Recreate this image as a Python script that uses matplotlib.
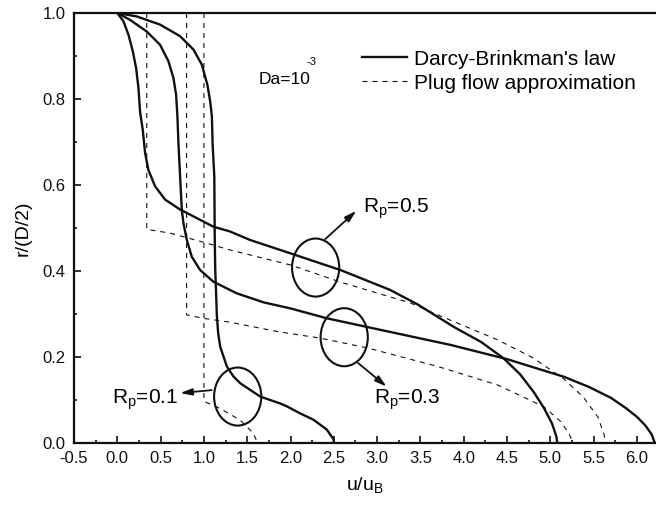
import numpy as np
import matplotlib
matplotlib.use("Agg")
import matplotlib.pyplot as plt
from matplotlib.patches import Ellipse
from matplotlib.ticker import FormatStrFormatter

plt.rcParams['font.family'] = ['Liberation Sans', 'DejaVu Sans']
plt.rcParams['mathtext.default'] = 'regular'
plt.rcParams['axes.unicode_minus'] = False

# Darcy-Brinkman velocity profiles (u/uB, r/(D/2))
db_05_u = [0.0, 0.07, 0.128, 0.179, 0.217, 0.244, 0.263, 0.294, 0.321, 0.359, 0.436, 0.552, 0.725,
           0.918, 1.11, 1.30, 1.535, 2.0, 2.58, 3.15, 3.47, 3.885, 4.2, 4.46, 4.65, 4.81, 4.93,
           5.02, 5.07, 5.08]
db_05_r = [1.0, 0.981, 0.950, 0.911, 0.872, 0.826, 0.770, 0.728, 0.674, 0.635, 0.597, 0.566, 0.543,
           0.523, 0.503, 0.492, 0.472, 0.441, 0.402, 0.356, 0.322, 0.270, 0.235, 0.197, 0.160,
           0.118, 0.080, 0.045, 0.015, 0.0]

db_03_u = [0.0, 0.147, 0.34, 0.494, 0.59, 0.648, 0.679, 0.694, 0.706, 0.725, 0.745, 0.764, 0.803,
           0.86, 0.957, 1.11, 1.38, 1.69, 2.0, 2.42, 2.88, 3.85, 4.50, 5.157, 5.45, 5.70, 5.88,
           6.005, 6.10, 6.17, 6.206]
db_03_r = [1.0, 0.984, 0.957, 0.926, 0.888, 0.849, 0.810, 0.760, 0.697, 0.620, 0.542, 0.511, 0.472,
           0.433, 0.402, 0.375, 0.348, 0.327, 0.313, 0.290, 0.270, 0.228, 0.195, 0.154, 0.130,
           0.105, 0.080, 0.060, 0.040, 0.020, 0.0]

db_01_u = [0.0, 0.225, 0.494, 0.725, 0.879, 0.976, 1.04, 1.072, 1.092, 1.10, 1.12, 1.125, 1.13,
           1.15, 1.165, 1.188, 1.265, 1.34, 1.419, 1.65, 1.88, 1.96, 2.11, 2.266, 2.42, 2.498, 2.50]
db_01_r = [1.0, 0.992, 0.973, 0.946, 0.915, 0.880, 0.833, 0.795, 0.760, 0.697, 0.620, 0.480, 0.410,
           0.294, 0.255, 0.224, 0.178, 0.155, 0.139, 0.108, 0.092, 0.085, 0.069, 0.054, 0.031,
           0.008, 0.0]

# plug flow approximation
pf_05_u = [0.34, 0.34, 0.61, 0.995, 1.30, 2.0, 2.58, 3.38, 3.77, 4.39, 4.80, 5.15, 5.38, 5.55, 5.62, 5.64]
pf_05_r = [1.0, 0.497, 0.488, 0.467, 0.449, 0.414, 0.374, 0.326, 0.292, 0.240, 0.198, 0.150, 0.107,
           0.060, 0.020, 0.0]

pf_03_u = [0.80, 0.80, 0.99, 1.30, 1.88, 2.34, 2.89, 3.70, 4.39, 4.92, 5.12, 5.22, 5.26]
pf_03_r = [1.0, 0.298, 0.290, 0.281, 0.258, 0.244, 0.221, 0.178, 0.135, 0.085, 0.050, 0.020, 0.0]

pf_01_u = [1.0, 1.0, 1.19, 1.42, 1.57, 1.62]
pf_01_r = [1.0, 0.097, 0.080, 0.053, 0.023, 0.0]

# (ellipse centre, arrow start, arrow end, label)
marks = [
    ((2.29, 0.408), (2.40, 0.474), (2.76, 0.540), 'R$_{p}$=0.5'),
    ((2.62, 0.246), (2.78, 0.186), (3.11, 0.131), 'R$_{p}$=0.3'),
    ((1.39, 0.108), (1.09, 0.123), (0.725, 0.116), 'R$_{p}$=0.1'),
]

fig = plt.figure(figsize=(6.56, 5.05), dpi=100)
ax = fig.add_axes([74/656, 62/505, 582/656, 430/505])

ink = '#111111'
lw = 1.7
l1, = ax.plot(db_05_u, db_05_r, color=ink, lw=lw, label="Darcy-Brinkman's law")
ax.plot(db_03_u, db_03_r, color=ink, lw=lw)
ax.plot(db_01_u, db_01_r, color=ink, lw=lw)
ds = (0, (4.5, 4.5))
l2, = ax.plot(pf_05_u, pf_05_r, color=ink, lw=0.8, ls=ds, label='Plug flow approximation')
ax.plot(pf_03_u, pf_03_r, color=ink, lw=0.8, ls=ds)
ax.plot(pf_01_u, pf_01_r, color=ink, lw=0.8, ls=ds)

for c, a0, a1, lab in marks:
    ax.add_patch(Ellipse(c, 0.545, 0.135, fill=False, ec=ink, lw=1.5))
    ax.annotate('', xy=a1, xytext=a0,
                arrowprops=dict(arrowstyle='-|>,head_length=0.7,head_width=0.2',
                                color=ink, lw=1.3, shrinkA=0, shrinkB=0))

ax.text(2.84, 0.545, marks[0][3], fontsize=15, va='center', ha='left')
ax.text(2.96, 0.100, marks[1][3], fontsize=15, va='center', ha='left')
ax.text(0.70, 0.100, marks[2][3], fontsize=15, va='center', ha='right')

ax.text(1.63, 0.845, 'Da=10', fontsize=12.5, va='center', ha='left')
ax.text(2.19, 0.886, '-3', fontsize=8, va='center', ha='left')

ax.legend(handles=[l1, l2], loc='upper left', bbox_to_anchor=(0.494, 0.915),
          frameon=False, fontsize=15, handlelength=2.2, handletextpad=0.3,
          labelspacing=0.25, borderpad=0, borderaxespad=0)

ax.set_xlim(-0.5, 6.22)
ax.set_ylim(0, 1.0)
ax.set_xticks(np.arange(-0.5, 6.01, 0.5))
ax.set_xticks(np.arange(-0.25, 6.2, 0.5), minor=True)
ax.set_yticks(np.arange(0, 1.01, 0.2))
ax.set_yticks(np.arange(0.1, 1.0, 0.2), minor=True)
ax.xaxis.set_major_formatter(FormatStrFormatter('%.1f'))
ax.yaxis.set_major_formatter(FormatStrFormatter('%.1f'))
ax.tick_params(which='both', direction='in', width=1.2, labelsize=12, colors=ink)
ax.tick_params(which='major', length=5, pad=6)
ax.tick_params(which='minor', length=2.5)
ax.spines['right'].set_visible(False)
for s in ['left', 'bottom', 'top']:
    ax.spines[s].set_linewidth(1.6)
    ax.spines[s].set_color(ink)

ax.set_xlabel('u/u$_B$', fontsize=14, labelpad=6)
ax.set_ylabel('r/(D/2)', fontsize=14, labelpad=8)

fig.savefig('out.png', dpi=100)
